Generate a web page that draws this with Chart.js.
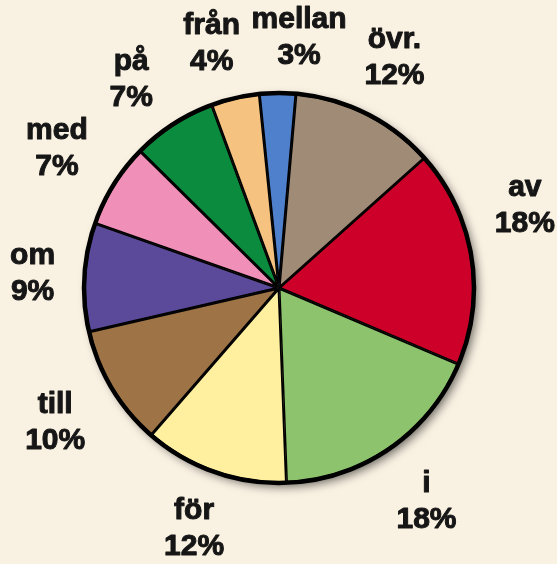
<!DOCTYPE html>
<html>
<head>
<meta charset="utf-8">
<script src="https://cdn.jsdelivr.net/npm/chart.js@4"></script>
<style>
  html, body { margin: 0; padding: 0; background: #f9f1e2; }
  #wrap { width: 557px; height: 564px; }
</style>
</head>
<body>
<div id="wrap"><canvas id="chart-pie"></canvas></div>
<script>
// Swedish prepositions, share of use (%), clockwise from the top
const labels = ['övr.', 'av', 'i', 'för', 'till', 'om', 'med', 'på', 'från', 'mellan'];
const shares = [12, 18, 18, 12, 10, 9, 7, 7, 4, 3];
const sliceColors = ['#a08c76', '#cc0029', '#8dc36d', '#fff0a0', '#9e7447',
                     '#5b4a99', '#f090b8', '#0a8b3e', '#f5c27f', '#4f80cc'];

// soft shadow under the pie and a thick outer rim
const rimPlugin = {
    id: 'rim',
    beforeDatasetsDraw(chart) {
        const arc = chart.getDatasetMeta(0).data[0];
        if (!arc) return;
        const ctx = chart.ctx;
        ctx.save();
        ctx.beginPath();
        ctx.arc(arc.x, arc.y, arc.outerRadius, 0, Math.PI * 2);
        ctx.shadowColor = 'rgba(0,0,0,0.55)';
        ctx.shadowBlur = 10;
        ctx.shadowOffsetX = 4;
        ctx.shadowOffsetY = 4;
        ctx.fillStyle = '#000';
        ctx.fill();
        ctx.restore();
    },
    afterDatasetsDraw(chart) {
        const arc = chart.getDatasetMeta(0).data[0];
        if (!arc) return;
        const ctx = chart.ctx;
        ctx.save();
        ctx.beginPath();
        ctx.arc(arc.x, arc.y, arc.outerRadius, 0, Math.PI * 2);
        ctx.lineWidth = 4.5;
        ctx.strokeStyle = '#000';
        ctx.stroke();
        ctx.restore();
    }
};

// two-line labels outside each slice; small neighbours are spread apart,
// labels that would run off the page slide up along the rim
const outsideLabels = {
    id: 'outsideLabels',
    afterDraw(chart) {
        const ctx = chart.ctx;
        const arcs = chart.getDatasetMeta(0).data;
        const n = arcs.length;
        const minSep = 20 * Math.PI / 180;
        const ang = arcs.map(a => (a.startAngle + a.endAngle) / 2);
        for (let it = 0; it < 50; it++) {
            for (let i = 0; i < n; i++) {
                const j = (i + 1) % n;
                let d = ang[j] - ang[i];
                if (j === 0) d += Math.PI * 2;
                if (d < minSep) {
                    const push = (minSep - d) / 2;
                    ang[i] -= push;
                    ang[j] += push;
                }
            }
        }
        ctx.save();
        ctx.font = 'bold 30px "Liberation Sans", Arial, sans-serif';
        ctx.fillStyle = '#161616';
        ctx.strokeStyle = '#161616';
        ctx.lineWidth = 1;
        ctx.lineJoin = 'round';
        ctx.textAlign = 'center';
        ctx.textBaseline = 'middle';
        const gap = 28, hh = 24;
        arcs.forEach((arc, i) => {
            const top = labels[i];
            const bottom = shares[i] + '%';
            const hw = Math.max(ctx.measureText(top).width, ctx.measureText(bottom).width) / 2;
            let a = ang[i], x, y;
            for (let k = 0; k < 60; k++) {
                const c = Math.cos(a), s = Math.sin(a);
                const d = arc.outerRadius + gap + hw * Math.abs(c) + hh * Math.abs(s);
                x = arc.x + c * d;
                y = arc.y + s * d;
                if (x - hw >= 1 && x + hw <= chart.width - 1) break;
                a += (c > 0 ? -1 : 1) * Math.PI / 180;
            }
            ctx.fillText(top, x, y - 18);
            ctx.strokeText(top, x, y - 18);
            ctx.fillText(bottom, x, y + 18);
            ctx.strokeText(bottom, x, y + 18);
        });
        ctx.restore();
    }
};

new Chart(document.getElementById('chart-pie'), {
    type: 'pie',
    data: {
        labels: labels,
        datasets: [{
            data: shares,
            backgroundColor: sliceColors,
            borderColor: '#000',
            borderWidth: 1.5,
            borderAlign: 'inner'
        }]
    },
    options: {
        responsive: true,
        maintainAspectRatio: false,
        animation: false,
        rotation: 5,
        layout: { padding: { left: 84, right: 83, top: 93, bottom: 81 } },
        plugins: {
            legend: { display: false },
            tooltip: { enabled: false }
        }
    },
    plugins: [rimPlugin, outsideLabels]
});
</script>
</body>
</html>
